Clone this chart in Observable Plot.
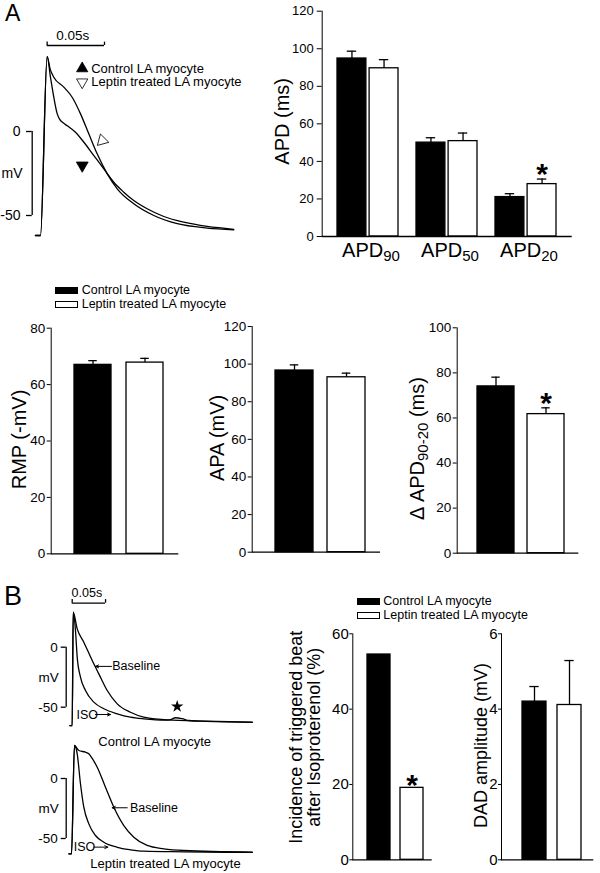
<!DOCTYPE html>
<html>
<head>
<meta charset="utf-8">
<script src="https://cdn.jsdelivr.net/npm/d3@7"></script>
<script src="https://cdn.jsdelivr.net/npm/@observablehq/plot@0.6"></script>
<style>
html,body{margin:0;padding:0;background:#fff;}
#fig{position:relative;width:600px;height:873px;overflow:hidden;background:#fff;font-family:"Liberation Sans",Arial,Helvetica,sans-serif;color:#000;}
.abs{position:absolute;white-space:nowrap;}
</style>
</head>
<body>
<div id="fig"></div>
<script>
// ---------------- DATA ----------------
const groups = ["Control LA myocyte", "Leptin treated LA myocyte"];
const groupFills = ["#000000", "#ffffff"];

// Panel A – APD bars
const apdCategories = ["APD_{90}", "APD_{50}", "APD_{20}"];
const apdControlMean = [94.8, 50.0, 21.0];
const apdControlSem = [3.9, 2.6, 1.8];
const apdLeptinMean = [89.6, 50.8, 27.9];
const apdLeptinSem = [4.6, 4.3, 2.7];
const apdLeptinSignificant = [false, false, true];

// Panel A – second row
const rmpMean = [67.0, 67.8];
const rmpSem = [1.5, 1.5];
const apaMean = [96.6, 93.0];
const apaSem = [3.0, 2.2];
const dApdMean = [74.0, 61.7];
const dApdSem = [4.1, 2.8];
const dApdSignificant = [false, true];

// Panel B bars
const triggeredIncidence = [54.5, 19.1];
const triggeredSignificant = [false, true];
const dadMean = [4.2, 4.11];
const dadSem = [0.4, 1.18];

// Panel A action potentials  [ms, mV]
const apControlA = [[-4.4,-61.9],[0,-61.9],[5.8,44.6],[8.7,32.3],[11.6,20.4],[14.6,10.5],[16.5,7.5],[20,5],[23.3,3.4],[30.5,-0.4],[37.8,-6.4],[46.5,-14.3],[55.2,-22.2],[63.9,-30.2],[72.6,-36.1],[81.3,-41.1],[93,-46],[107.5,-50.6],[125,-54],[145.3,-56.5],[168.5,-58.2]];
const apLeptinA = [[-4.4,-61.9],[0,-61.9],[5.8,44.6],[8.5,37],[11.6,32.3],[20.3,26.4],[27.6,20.4],[34.9,10.5],[42.1,-1.4],[49.4,-13.3],[58.2,-25.2],[66.9,-34.1],[81.3,-43],[98.8,-50],[119.2,-54.9],[145.3,-57.5],[168.5,-58.5]];
const apMarkersA = [
  {t: 36.4, v: -20.2, fill: "black", rotate: 180},
  {t: 53.8, v: -5.4, fill: "white", rotate: 225}
];
const timeBarA = {t0: 5.8, t1: 55.8, v: 51.2, label: "0.05s"};

// Panel B action potentials [ms, mV]
const controlBaselineB = [[-3.6,-65.3],[0,-65.3],[1.5,29.2],[7.5,15.3],[17.4,4.2],[30,-11.1],[39.9,-22.2],[52.5,-36.1],[67.5,-47.2],[87.4,-54.2],[107.3,-58.3],[142.4,-60.5],[200,-61.6],[270,-62.5]];
const controlIsoB = [[-3.6,-65.3],[0,-65.3],[1.5,29.2],[4.9,13.9],[7.5,-8.3],[12.4,-25],[19.9,-36.1],[32.4,-45.8],[47.4,-51.3],[67.5,-55.5],[87.4,-58.3],[107.3,-59.7],[140,-60.8],[146,-60.6],[155,-58.8],[165,-59.6],[175,-61.1],[200,-61.8],[270,-62.6]];
const leptinBaselineB = [[-5,-62.8],[-1,-62.8],[3.4,27.5],[9.9,23.3],[19.9,21.9],[24.9,20.6],[30,16.7],[37.5,9.4],[49.9,-7.3],[62.4,-23.9],[77.4,-39.2],[92.4,-48.9],[112.4,-55.8],[137.3,-58.6],[167.3,-60],[270,-61.4]];
const leptinIsoB = [[-5,-62.8],[-1,-62.8],[3.4,27.5],[7.5,20.6],[12.4,-4.4],[17.4,-23.9],[24.9,-37.8],[34.9,-47.5],[47.4,-53.1],[67.5,-57.3],[87.4,-59.4],[107.3,-60.6],[167.3,-61.1],[270,-61.6]];
const timeBarB = {t0: 0, t1: 50, v: 36.7, label: "0.05s"};
const controlNotesB = [
  {text: "Baseline", t: 60, v: -16, from: 58.9, to: 35},
  {text: "ISO", t: 6.4, v: -56.1, from: 34.9, to: 57.5}
];
const leptinNotesB = [
  {text: "Baseline", t: 86.5, v: -24.4, from: 82.5, to: 60},
  {text: "ISO", t: 2.4, v: -57.2, from: 32.4, to: 53.4}
];
const triggeredStarB = [{t: 157.4, v: -49.4}];

// ---------------- HELPERS ----------------
const FONT = '"Liberation Sans", Arial, Helvetica, sans-serif';
const fig = document.getElementById("fig");
const baseStyle = {fontFamily: FONT, fontSize: "13px", background: "transparent", overflow: "visible", color: "black"};
const plainNumber = d => String(d);

function place(node, left, top) {
  node.style.position = "absolute";
  node.style.left = left + "px";
  node.style.top = top + "px";
  fig.appendChild(node);
  return node;
}

function subscriptify(svg, subSize, shift) {
  svg.querySelectorAll("text").forEach(t => {
    if (t.children.length) return;
    const s = t.textContent;
    if (!s.includes("_{")) return;
    t.textContent = "";
    let shifted = false;
    for (const p of s.split(/(_\{[^}]*\})/)) {
      if (!p) continue;
      const ts = document.createElementNS("http://www.w3.org/2000/svg", "tspan");
      if (p.startsWith("_{")) {
        ts.textContent = p.slice(2, -1);
        ts.setAttribute("font-size", subSize);
        ts.setAttribute("dy", shift);
        shifted = true;
      } else {
        ts.textContent = p;
        if (shifted) { ts.setAttribute("dy", -shift); shifted = false; }
      }
      t.appendChild(ts);
    }
  });
}

function pairRows(mean, sem = [0, 0], sig = [false, false]) {
  return groups.map((group, i) => ({group, mean: mean[i], sem: sem[i], sig: sig[i]}));
}

function barChart(c) {
  const n = c.domain.length;
  const step = (c.ax1 - c.ax0) / (n - c.pi + 2 * c.po);
  const bw = step * (1 - c.pi);
  const gap = 2.6, half = bw / 2;
  const marks = [];
  const sets = c.grouped ? groups.map((g, i) => [c.rows.filter(r => r.group === g), i]) : [[c.rows, -1]];
  for (const [sub, i] of sets) {
    const il = i === 1 ? half + gap / 2 : 0;
    const ir = i === 0 ? half + gap / 2 : 0;
    const barW = bw - il - ir;
    const dx = i === 0 ? -(half + gap / 2) / 2 : i === 1 ? (half + gap / 2) / 2 : 0;
    const capIn = (barW - c.capW) / 2;
    const err = sub.filter(r => r.sem > 0);
    marks.push(
      Plot.barY(sub, {x: c.xKey, y: "mean", fill: "group", stroke: "black", strokeWidth: 1.3, insetLeft: il, insetRight: ir}),
      Plot.ruleX(err, {x: c.xKey, y1: "mean", y2: r => r.mean + r.sem, dx, stroke: "black", strokeWidth: 1.3}),
      Plot.tickY(err, {x: c.xKey, y: r => r.mean + r.sem, insetLeft: il + capIn, insetRight: ir + capIn, stroke: "black", strokeWidth: 1.3}),
      Plot.text(sub.filter(r => r.sig), {x: c.xKey, y: r => r.mean + (r.sem || 0), dx, dy: c.starDy, text: () => "*", fontSize: c.starSize, fontWeight: "bold", lineAnchor: "bottom"})
    );
  }
  marks.push(Plot.ruleY([0], {stroke: "black", strokeWidth: 1.3}));
  marks.push(Plot.text([c.label], {text: d => d, frameAnchor: "left", textAnchor: "middle", lineAnchor: "middle", rotate: -90, dx: c.labelDx, dy: c.labelDy, fontSize: c.labelSize, lineHeight: c.lineHeight || 1}));
  if (c.grouped) marks.push(Plot.axisX({tickSize: 0, tickPadding: 6.5, fontSize: 20, dx: 3, label: null}));
  const svg = Plot.plot({
    width: c.width, height: c.height,
    marginLeft: c.ax0 - c.left, marginRight: c.left + c.width - c.ax1,
    marginTop: c.yTop - c.top, marginBottom: c.top + c.height - c.y0,
    x: c.grouped ? {domain: c.domain, paddingInner: c.pi, paddingOuter: c.po, align: c.align}
                 : {domain: c.domain, paddingInner: c.pi, paddingOuter: c.po, align: c.align, axis: null},
    y: {domain: [0, c.yMax], ticks: d3.range(0, c.yMax + c.yStep / 2, c.yStep), tickFormat: plainNumber, tickSize: c.tickSize, tickPadding: c.tickPadding, label: null, line: true},
    color: {domain: groups, range: groupFills},
    style: {...baseStyle, fontSize: c.tickFont + "px"},
    marks
  });
  place(svg, c.left, c.top);
  if (c.sub) subscriptify(svg, c.sub[0], c.sub[1]);
  return svg;
}

function traceDomains(c) {
  return {
    x: [(c.left + c.mLeft - c.t0) / c.kx, (c.left + c.width - c.t0) / c.kx],
    y: [(c.v0 - (c.top + c.height)) / c.ky, (c.v0 - c.top) / c.ky]
  };
}

function scaleBarMarks(dom, tickSize, tickPadding, fontSize, mvDx) {
  return [
    Plot.axisY({ticks: [0, -50], tickSize, tickPadding, fontSize, tickFormat: plainNumber, label: null, strokeWidth: 1.3}),
    Plot.ruleX([dom.x[0]], {x: d => d, y1: -50, y2: 0, strokeWidth: 1.3}),
    Plot.text(["mV"], {x: dom.x[0], y: -25, dx: mvDx, text: d => d, textAnchor: "end", fontSize})
  ];
}

function timeBarMarks(bar, tickUp, textDy, fontSize, textDx) {
  return [
    Plot.ruleY([bar], {x1: "t0", x2: "t1", y: "v", strokeWidth: 1.3}),
    Plot.ruleX([bar.t0, bar.t1], {x: d => d, y1: bar.v, y2: bar.v + tickUp, strokeWidth: 1.3}),
    Plot.text([bar], {x: d => (d.t0 + d.t1) / 2, y: "v", dx: textDx, dy: textDy, text: "label", lineAnchor: "bottom", fontSize})
  ];
}

const lineOpts = {x: d => d[0], y: d => d[1], curve: "monotone-x", stroke: "black", strokeWidth: 1.3};

// ---------------- PANEL A: trace ----------------
{
  const L = {left: 0, top: 0, width: 265, height: 250, mLeft: 31.7, t0: 40, kx: 1.147, v0: 131, ky: 1.68};
  const dom = traceDomains(L);
  const legendRows = [
    {label: groups[0], fill: "black", rotate: 0, dy: 68},
    {label: groups[1], fill: "white", rotate: 180, dy: 81.7}
  ];
  const svg = Plot.plot({
    width: L.width, height: L.height, marginLeft: L.mLeft, marginRight: 0, marginTop: 0, marginBottom: 0,
    x: {domain: dom.x, axis: null}, y: {domain: dom.y, axis: null},
    style: baseStyle,
    marks: [
      ...scaleBarMarks(dom, 5.7, 6, 14, -9.7),
      ...timeBarMarks(timeBarA, 2, -5.7, 13.5, -3),
      Plot.line(apControlA, lineOpts),
      Plot.line(apLeptinA, lineOpts),
      Plot.dot(apMarkersA, {x: "t", y: "v", symbol: "triangle", r: 4.4, fill: "fill", rotate: "rotate", stroke: "black", strokeWidth: 0.8}),
      ...legendRows.flatMap(r => [
        Plot.dot([r], {frameAnchor: "top-left", dx: 50, dy: r.dy, symbol: "triangle", r: 4.2, fill: r.fill, rotate: r.rotate, stroke: "black", strokeWidth: 0.8}),
        Plot.text([r], {frameAnchor: "top-left", dx: 59, dy: r.dy, text: "label", textAnchor: "start", lineAnchor: "middle", fontSize: 13})
      ])
    ]
  });
  place(svg, L.left, L.top);
}

// ---------------- PANEL A: bar charts ----------------
const apdRows = apdCategories.flatMap((cat, i) => [
  {cat, group: groups[0], mean: apdControlMean[i], sem: apdControlSem[i], sig: false},
  {cat, group: groups[1], mean: apdLeptinMean[i], sem: apdLeptinSem[i], sig: apdLeptinSignificant[i]}
]);

barChart({rows: apdRows, grouped: true, xKey: "cat", domain: apdCategories,
  left: 260, top: 0, width: 340, height: 290, ax0: 321.7, ax1: 571.7, y0: 236, yTop: 10.7,
  yMax: 120, yStep: 20, pi: 0.2217, po: 0.19, align: 0.5,
  label: "APD (ms)", labelDx: -39.7, labelDy: -2.5, labelSize: 20,
  tickFont: 13, tickSize: 5, tickPadding: 3.4, capW: 10, starSize: 30, starDy: 5, sub: [15, 4]});

barChart({rows: pairRows(rmpMean, rmpSem), xKey: "group", domain: groups,
  left: 0, top: 310, width: 200, height: 260, ax0: 50.7, ax1: 178.3, y0: 553.3, yTop: 327.7,
  yMax: 80, yStep: 20, pi: 0.288, po: 0.355, align: 0.6,
  label: "RMP (-mV)", labelDx: -31.5, labelDy: -1.5, labelSize: 20,
  tickFont: 13.5, tickSize: 4, tickPadding: 2, capW: 9, starSize: 30, starDy: 5});

barChart({rows: pairRows(apaMean, apaSem), xKey: "group", domain: groups,
  left: 200, top: 310, width: 190, height: 260, ax0: 251.7, ax1: 380, y0: 551.7, yTop: 326,
  yMax: 120, yStep: 20, pi: 0.27, po: 0.352, align: 0.6,
  label: "APA (mV)", labelDx: -34.2, labelDy: -1.4, labelSize: 20,
  tickFont: 13.5, tickSize: 4, tickPadding: 2, capW: 9, starSize: 30, starDy: 5});

barChart({rows: pairRows(dApdMean, dApdSem, dApdSignificant), xKey: "group", domain: groups,
  left: 390, top: 310, width: 210, height: 260, ax0: 456.7, ax1: 578.3, y0: 552.7, yTop: 327.3,
  yMax: 100, yStep: 20, pi: 0.256, po: 0.33, align: 0.6,
  label: "\u0394 APD_{90-20} (ms)", labelDx: -40, labelDy: 8, labelSize: 20,
  tickFont: 13.5, tickSize: 4, tickPadding: 2, capW: 9, starSize: 30, starDy: 5, sub: [15, 4]});

// ---------------- PANEL B: traces ----------------
function panelBTrace(L, baseline, iso, notes, caption, capDx, capDy, extra) {
  const dom = traceDomains(L);
  const svg = Plot.plot({
    width: L.width, height: L.height, marginLeft: L.mLeft, marginRight: 0, marginTop: 0, marginBottom: 0,
    x: {domain: dom.x, axis: null}, y: {domain: dom.y, axis: null},
    style: baseStyle,
    marks: [
      ...scaleBarMarks(dom, 5, 3.4, 13.5, -7.4),
      Plot.line(baseline, lineOpts),
      Plot.line(iso, lineOpts),
      Plot.arrow(notes, {x1: "from", x2: "to", y1: "v", y2: "v", headLength: 5, headAngle: 50, strokeWidth: 1, stroke: "black"}),
      Plot.text(notes, {x: "t", y: "v", text: "text", textAnchor: "start", fontSize: 12.5}),
      Plot.text([caption], {frameAnchor: "bottom-left", textAnchor: "middle", dx: capDx, dy: capDy, text: d => d, lineAnchor: "bottom", fontSize: 13}),
      ...extra
    ]
  });
  place(svg, L.left, L.top);
}

panelBTrace({left: 0, top: 580, width: 270, height: 175, mLeft: 65.7, t0: 71.7, kx: 0.667, v0: 646.7, ky: 1.2},
  controlBaselineB, controlIsoB, controlNotesB, groups[0], 88.5, -10, [
    ...timeBarMarks(timeBarB, 3, -6, 12.5, -2),
    Plot.dot(triggeredStarB, {x: "t", y: "v", symbol: "star", r: 3.9, fill: "black"})
  ]);

panelBTrace({left: 0, top: 740, width: 270, height: 133, mLeft: 65.7, t0: 71.7, kx: 0.667, v0: 778, ky: 1.2},
  leptinBaselineB, leptinIsoB, leptinNotesB, groups[1], 99.3, -5.7, []);

// ---------------- PANEL B: bars ----------------
barChart({rows: pairRows(triggeredIncidence, [0, 0], triggeredSignificant), xKey: "group", domain: groups,
  left: 270, top: 620, width: 170, height: 253, ax0: 352.3, ax1: 431.7, y0: 859.3, yTop: 633.3,
  yMax: 60, yStep: 20, pi: 0.29, po: 0.337, align: 0.64,
  label: "Incidence of triggered beat\nafter Isoproterenol (%)", labelDx: -48, labelDy: -9.6, labelSize: 18, lineHeight: 1.02,
  tickFont: 15, tickSize: 3, tickPadding: 1, capW: 9, starSize: 30, starDy: 7});

barChart({rows: pairRows(dadMean, dadSem), xKey: "group", domain: groups,
  left: 440, top: 620, width: 160, height: 253, ax0: 501, ax1: 593.3, y0: 859.3, yTop: 633.3,
  yMax: 6, yStep: 2, pi: 0.323, po: 0.48, align: 0.634,
  label: "DAD amplitude (mV)", labelDx: -20.4, labelDy: -1.3, labelSize: 18,
  tickFont: 15, tickSize: 3, tickPadding: 1, capW: 9, starSize: 30, starDy: 5});

// ---------------- Legends and panel letters ----------------
function swatchLegend(sx, sw, swTops, swH, tx, baselines) {
  groups.forEach((g, i) => {
    const s = document.createElement("div");
    s.style.cssText = `width:${sw}px;height:${swH}px;background:${groupFills[i]};border:1.3px solid #000;box-sizing:border-box;`;
    place(s, sx, swTops[i]);
    const t = document.createElement("div");
    t.className = "abs";
    t.style.cssText += "font-size:12.5px;line-height:11px;";
    t.textContent = g;
    place(t, tx, baselines[i] - 10);
  });
}
swatchLegend(55, 23.3, [287, 300.8], 7.4, 81.7, [294.5, 308.5]);
swatchLegend(357.3, 22.7, [598, 611.8], 7, 383.3, [605.5, 619.5]);

function letter(ch, x, capTop, size) {
  const d = document.createElement("div");
  d.className = "abs";
  d.style.cssText += `font-size:${size}px;line-height:${size}px;`;
  d.textContent = ch;
  place(d, x, capTop - 0.13 * size);
}
letter("A", 5, 5, 23);
letter("B", 4, 587, 27);
</script>
</body>
</html>
